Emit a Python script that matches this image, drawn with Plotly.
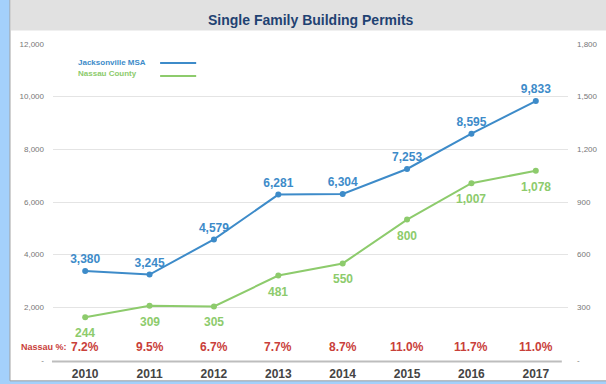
import plotly.graph_objects as go

years = ["2010", "2011", "2012", "2013", "2014", "2015", "2016", "2017"]
jacksonville = [3380, 3245, 4579, 6281, 6304, 7253, 8595, 9833]
nassau = [244, 309, 305, 481, 550, 800, 1007, 1078]
left_ticks = [0, 2000, 4000, 6000, 8000, 10000, 12000]
right_ticks = [0, 300, 600, 900, 1200, 1500, 1800]

BLUE = "#3d8bc9"
GREEN = "#8dcb6c"
RED = "#c9403a"
FONT = "Liberation Sans, Arial, sans-serif"

def fmt(v):
    return "-" if v == 0 else f"{v:,}"

fig = go.Figure()

fig.add_trace(go.Scatter(
    x=years, y=jacksonville, name="Jacksonville MSA",
    mode="lines+markers+text",
    line=dict(color=BLUE, width=2),
    marker=dict(color=BLUE, size=6),
    text=[f"{v:,}" for v in jacksonville],
    textposition="top center",
    textfont=dict(family=FONT, size=12, color=BLUE, weight="bold"),
    cliponaxis=False,
))

fig.add_trace(go.Scatter(
    x=years, y=nassau, name="Nassau County", yaxis="y2",
    mode="lines+markers",
    line=dict(color=GREEN, width=2),
    marker=dict(color=GREEN, size=6),
    cliponaxis=False,
))

# Nassau value labels sit a little further below their points
for i, n in enumerate(nassau):
    fig.add_annotation(
        x=i, xref="x", y=n, yref="y2", yshift=-16, text=f"{n:,}",
        xanchor="center", yanchor="middle",
        showarrow=False, font=dict(family=FONT, size=12, color=GREEN, weight="bold"),
    )

# Nassau share of metro permits, one label per year
for i, (j, n) in enumerate(zip(jacksonville, nassau)):
    fig.add_annotation(
        x=i, xref="x", y=0.041, yref="paper", text=f"{n / j * 100:.1f}%",
        xanchor="center", yanchor="middle",
        showarrow=False, font=dict(family=FONT, size=12, color=RED, weight="bold"),
    )
fig.add_annotation(
    x=-0.0175, xref="paper", y=0.041, yref="paper", text="Nassau %:",
    xanchor="center", yanchor="middle",
    showarrow=False, font=dict(family=FONT, size=9, color=RED, weight="bold"),
)

shapes = [
    # white chart panel
    dict(type="rect", xref="paper", yref="paper", x0=-0.0835, x1=1.08, y0=-0.066, y1=1.172,
         fillcolor="white", line=dict(color="#a0a0a0", width=1), layer="below"),
    # grey title bar
    dict(type="rect", xref="paper", yref="paper", x0=-0.0815, x1=1.08, y0=1.0427, y1=1.168,
         fillcolor="#e1e1e1", line=dict(width=0), layer="below"),
    # baseline
    dict(type="line", xref="paper", yref="paper", x0=-0.002, x1=0.988, y0=-0.005, y1=-0.005,
         line=dict(color="#bdbdbd", width=2)),
    # legend samples
    dict(type="line", xref="paper", yref="paper", x0=0.208, x1=0.278, y0=0.94, y1=0.94,
         line=dict(color=BLUE, width=2)),
    dict(type="line", xref="paper", yref="paper", x0=0.208, x1=0.278, y0=0.899, y1=0.899,
         line=dict(color=GREEN, width=2)),
]

fig.add_annotation(x=0.045, xref="paper", y=0.962, yref="paper", xanchor="left", yanchor="top",
                   text="Jacksonville MSA", showarrow=False,
                   font=dict(family=FONT, size=8, color=BLUE, weight="bold"))
fig.add_annotation(x=0.045, xref="paper", y=0.927, yref="paper", xanchor="left", yanchor="top",
                   text="Nassau County", showarrow=False,
                   font=dict(family=FONT, size=8, color=GREEN, weight="bold"))
fig.add_annotation(x=0.5, xref="paper", y=1.076, yref="paper", xanchor="center", yanchor="middle",
                   text="Single Family Building Permits", showarrow=False,
                   font=dict(family=FONT, size=14, color="#1f4272", weight="bold"))

fig.update_layout(
    width=606, height=384,
    margin=dict(l=53, r=38, t=44, b=24, autoexpand=False),
    paper_bgcolor="#a4d0fb",
    plot_bgcolor="white",
    showlegend=False,
    shapes=shapes,
    xaxis=dict(
        type="category", range=[-0.5, 7.5], showgrid=False, zeroline=False,
        showline=False, ticks="", automargin=False, ticklabelstandoff=5,
        tickfont=dict(family=FONT, size=12, color="#444444", weight="bold"),
    ),
    yaxis=dict(
        range=[0, 12000], tickvals=left_ticks, ticktext=[fmt(v) for v in left_ticks],
        showgrid=True, gridcolor="#e4e4e4", gridwidth=1, zeroline=False, automargin=False,
        tickfont=dict(family=FONT, size=8, color="#777777"), ticklabelstandoff=8,
    ),
    yaxis2=dict(
        range=[0, 1800], overlaying="y", side="right", automargin=False,
        tickvals=right_ticks, ticktext=[fmt(v) for v in right_ticks],
        showgrid=False, zeroline=False,
        tickfont=dict(family=FONT, size=8, color="#777777"), ticklabelstandoff=8,
    ),
)

fig.write_html("out.html")
